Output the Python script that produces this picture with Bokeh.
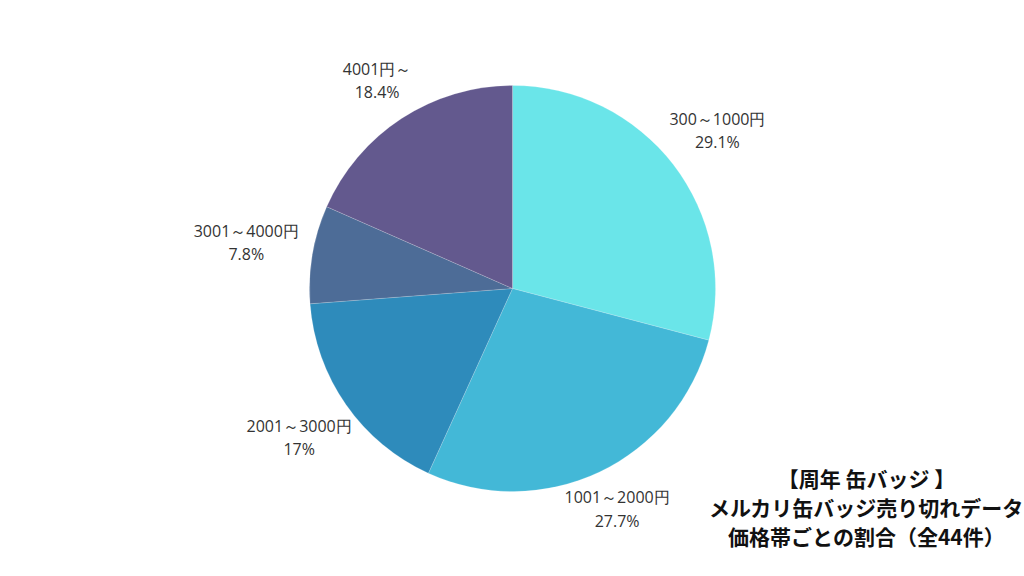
import math
from bokeh.plotting import figure
from bokeh.models import Range1d, ColumnDataSource
from bokeh.core.properties import value
from bokeh.embed import file_html
from bokeh.resources import INLINE

categories = ["300～1000円", "1001～2000円", "2001～3000円", "3001～4000円", "4001円～"]
shares = [29.1, 27.7, 17.0, 7.8, 18.4]
colors = ["#6ae5e9", "#43b8d7", "#2e8bbb", "#4d6c97", "#63598e"]
title_lines = ["【周年 缶バッジ 】", "メルカリ缶バッジ売り切れデータ", "価格帯ごとの割合（全44件）"]

W, H = 1024, 576
p = figure(width=W, height=H, output_backend="svg", toolbar_location=None,
           x_range=Range1d(0, W), y_range=Range1d(576 - H, 576),
           min_border=0)
p.axis.visible = False
p.grid.visible = False
p.outline_line_color = None
p.background_fill_color = "white"
p.border_fill_color = "white"

cx, cy, R = 512, 288, 203
total = sum(shares)
starts, ends, lx, ly, labels = [], [], [], [], []
cum = 0.0
for name, s in zip(categories, shares):
    a0 = math.pi / 2 - 2 * math.pi * cum / total
    cum += s
    a1 = math.pi / 2 - 2 * math.pi * cum / total
    starts.append(a0)
    ends.append(a1)
    mid = (a0 + a1) / 2
    r = R + 35 + 33 * math.cos(mid) ** 2
    lx.append(cx + r * math.cos(mid))
    ly.append(cy + r * math.sin(mid))
    labels.append(f"{name}\n{s:g}%")

src = ColumnDataSource(dict(start=starts, end=ends, color=colors, lx=lx, ly=ly, label=labels))
p.wedge(x=cx, y=cy, radius=R, start_angle="start", end_angle="end", direction="clock",
        fill_color="color", line_color="white", line_width=0.3, line_alpha=0.6, source=src)
p.text(x="lx", y="ly", text="label", source=src, text_align="center", text_baseline="middle",
       text_font=value("Open Sans"), text_font_size="16px",
       text_color="#333333", text_line_height=1.05)

p.text(x=[866] * 3, y=[576 - 477, 576 - 506, 576 - 535], text=title_lines,
       text_align="center", text_baseline="middle", text_font=value("Noto Sans CJK JP"),
       text_font_size="21px", text_font_style="bold", text_color="#111111")

open("out.html", "w").write(file_html(p, INLINE))
